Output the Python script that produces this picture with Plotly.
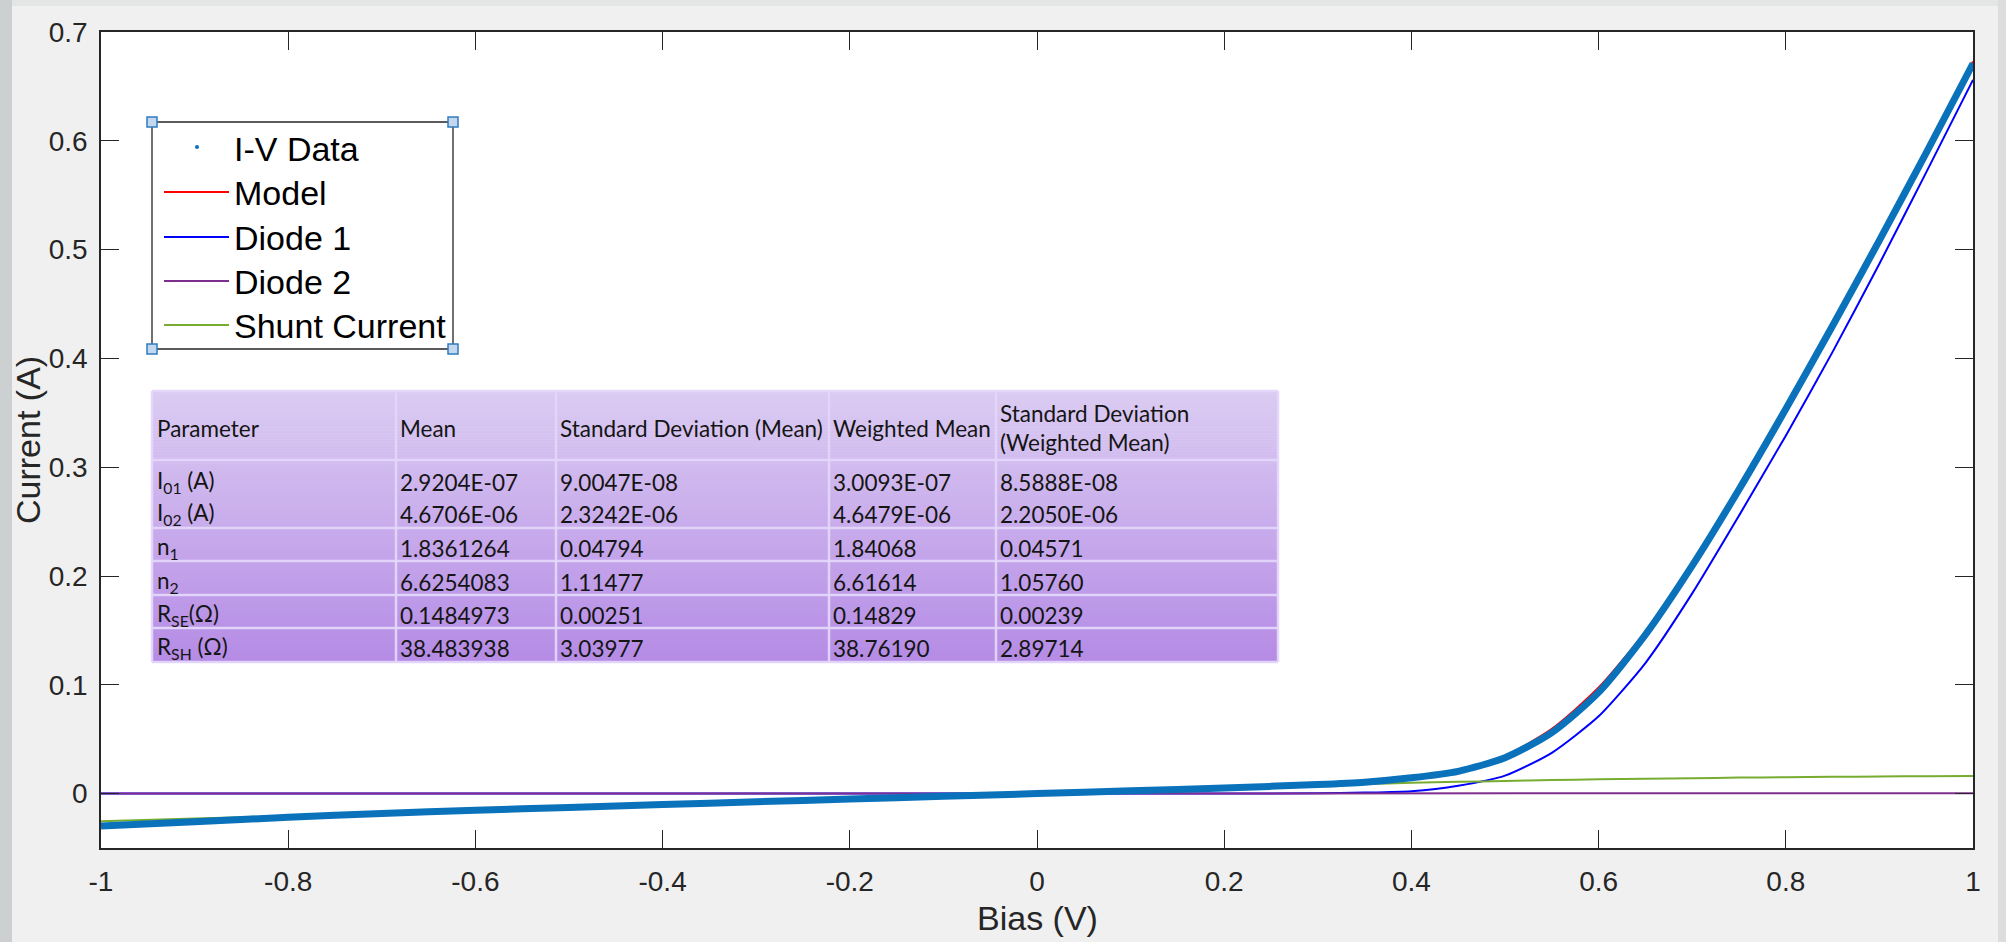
import plotly.graph_objects as go

# ---------------- data ----------------
bias = [-1.0, -0.9, -0.8, -0.7, -0.6, -0.5, -0.4, -0.3, -0.2, -0.1, 0.0, 0.1, 0.2,
        0.3, 0.35, 0.4, 0.45, 0.5, 0.55, 0.6, 0.65, 0.7, 0.75, 0.8, 0.85, 0.9, 0.95, 1.0]

iv_data = [-0.0298, -0.0258, -0.0218, -0.0182, -0.0153, -0.0127, -0.0101, -0.0075, -0.0050,
           -0.0025, 0.0, 0.0026, 0.0052, 0.0083, 0.0105, 0.0145, 0.0205, 0.033, 0.056, 0.093,
           0.146, 0.2095, 0.2795, 0.3535, 0.430, 0.5085, 0.589, 0.671]

model = [-0.0296, -0.0256, -0.0217, -0.0181, -0.0153, -0.0127, -0.0101, -0.0075, -0.0050,
         -0.0025, 0.0, 0.0026, 0.0053, 0.0084, 0.0107, 0.0148, 0.0212, 0.0348, 0.0595, 0.0975,
         0.149, 0.211, 0.281, 0.355, 0.431, 0.5095, 0.590, 0.673]

diode_1 = [0.0, 0.0, 0.0, 0.0, 0.0, 0.0, 0.0, 0.0, 0.0, 0.0, 0.0, 0.0, 0.0001,
           0.0003, 0.0009, 0.0022, 0.0072, 0.0165, 0.0375, 0.071, 0.120, 0.184, 0.2555,
           0.329, 0.406, 0.487, 0.571, 0.656]

diode_2 = [0.0, 0.0, 0.0, 0.0, 0.0, 0.0, 0.0, 0.0, 0.0, 0.0, 0.0, 0.0, 0.0,
           0.0, 0.0, 0.0, 0.0, 0.0, 0.0, 0.0001, 0.0001, 0.0001, 0.0001, 0.0002,
           0.0002, 0.0002, 0.0002, 0.0003]

shunt = [-0.0255, -0.0230, -0.0205, -0.0180, -0.0154, -0.0128, -0.0102, -0.0077, -0.0051,
         -0.0026, 0.0, 0.0026, 0.0051, 0.0076, 0.0088, 0.0099, 0.0108, 0.0116, 0.0124,
         0.0131, 0.0137, 0.0142, 0.0147, 0.0151, 0.0154, 0.0157, 0.0160, 0.0162]

x_ticks = [-1, -0.8, -0.6, -0.4, -0.2, 0, 0.2, 0.4, 0.6, 0.8, 1]
x_tick_labels = ["-1", "-0.8", "-0.6", "-0.4", "-0.2", "0", "0.2", "0.4", "0.6", "0.8", "1"]
y_ticks = [0, 0.1, 0.2, 0.3, 0.4, 0.5, 0.6, 0.7]
y_tick_labels = ["0", "0.1", "0.2", "0.3", "0.4", "0.5", "0.6", "0.7"]

legend_labels = ["I-V Data", "Model", "Diode 1", "Diode 2", "Shunt Current"]

table_header = ["Parameter", "Mean", "Standard Deviation (Mean)", "Weighted Mean",
                "Standard Deviation<br>(Weighted Mean)"]
table_params = ["I<sub>01</sub> (A)", "I<sub>02</sub> (A)", "n<sub>1</sub>", "n<sub>2</sub>",
                "R<sub>SE</sub>(Ω)", "R<sub>SH</sub> (Ω)"]
table_mean = ["2.9204E-07", "4.6706E-06", "1.8361264", "6.6254083", "0.1484973", "38.483938"]
table_sd_mean = ["9.0047E-08", "2.3242E-06", "0.04794", "1.11477", "0.00251", "3.03977"]
table_wmean = ["3.0093E-07", "4.6479E-06", "1.84068", "6.61614", "0.14829", "38.76190"]
table_sd_wmean = ["8.5888E-08", "2.2050E-06", "0.04571", "1.05760", "0.00239", "2.89714"]

# ---------------- layout geometry (pixels) ----------------
W, H = 2006, 942
L, R, T, B = 101, 1973, 32, 848


def px(x):
    return (x - L) / (R - L)


def py(y):
    return (B - y) / (B - T)


AXC = "#262626"
fig = go.Figure()

fig.add_trace(go.Scatter(x=bias, y=model, mode="lines", name="Model",
                         line=dict(color="#FF0000", width=2, shape="spline", smoothing=0.7)))
fig.add_trace(go.Scatter(x=bias, y=diode_1, mode="lines", name="Diode 1",
                         line=dict(color="#0000FF", width=2, shape="spline", smoothing=0.6)))
fig.add_trace(go.Scatter(x=bias, y=diode_2, mode="lines", name="Diode 2",
                         line=dict(color="#7E2F8E", width=2)))
fig.add_trace(go.Scatter(x=bias, y=shunt, mode="lines", name="Shunt Current",
                         line=dict(color="#77AC30", width=2, shape="spline", smoothing=0.6)))
fig.add_trace(go.Scatter(x=bias, y=iv_data, mode="lines", name="I-V Data",
                         line=dict(color="#0a72ba", width=7, shape="spline", smoothing=0.7)))

shapes = []
annotations = []

# window edge strips
shapes.append(dict(type="rect", xref="paper", yref="paper", x0=px(0), x1=px(12), y0=py(H), y1=py(0),
                   fillcolor="#cdd0d0", line=dict(width=0), layer="below"))
shapes.append(dict(type="rect", xref="paper", yref="paper", x0=px(12), x1=px(W), y0=py(6), y1=py(0),
                   fillcolor="#e4e6e6", line=dict(width=0), layer="below"))
shapes.append(dict(type="rect", xref="paper", yref="paper", x0=px(1998), x1=px(W), y0=py(H), y1=py(0),
                   fillcolor="#dcdede", line=dict(width=0), layer="below"))

# ---------------- table ----------------
tx0, tx1, ty0, ty1 = 152, 1278, 391, 662
c_top = (219, 204, 242)
c_bot = (181, 139, 229)
n_strips = 90
for i in range(n_strips):
    f = (i + 0.5) / n_strips
    col = tuple(round(c_top[k] + (c_bot[k] - c_top[k]) * f) for k in range(3))
    y_a = ty0 + (ty1 - ty0) * i / n_strips
    y_b = ty0 + (ty1 - ty0) * (i + 1) / n_strips + 0.6
    shapes.append(dict(type="rect", xref="paper", yref="paper", x0=px(tx0), x1=px(tx1),
                       y0=py(y_b), y1=py(y_a), fillcolor="rgb(%d,%d,%d)" % col, line=dict(width=0)))

grid_col = "rgba(228,214,250,0.95)"
for yy in [391, 460, 528, 561, 595, 628, 662]:
    shapes.append(dict(type="line", xref="paper", yref="paper", x0=px(tx0), x1=px(tx1),
                       y0=py(yy), y1=py(yy), line=dict(color=grid_col, width=2.5)))
col_x = [152, 396, 556, 829, 996, 1278]
for xx in col_x:
    shapes.append(dict(type="line", xref="paper", yref="paper", x0=px(xx), x1=px(xx),
                       y0=py(ty0), y1=py(ty1), line=dict(color=grid_col, width=2.5)))

tfont = dict(family="Lato, Open Sans, sans-serif", size=22.5, color="#151515")
text_x = [155, 398, 558, 831, 998]
for j, h in enumerate(table_header):
    annotations.append(dict(xref="paper", yref="paper", x=px(text_x[j]), y=py(428),
                            text=h, showarrow=False, xanchor="left", yanchor="middle",
                            align="left", font=tfont))
row_y = [482, 514, 548, 582, 615, 648]
columns = [table_params, table_mean, table_sd_mean, table_wmean, table_sd_wmean]
for j, colvals in enumerate(columns):
    for i, v in enumerate(colvals):
        annotations.append(dict(xref="paper", yref="paper", x=px(text_x[j]), y=py(row_y[i]),
                                text=v, showarrow=False, xanchor="left", yanchor="middle",
                                align="left", font=tfont))

# ---------------- legend (drawn by hand, MATLAB style with selection handles) ----------------
lx0, lx1, ly0, ly1 = 152, 453, 122, 349
shapes.append(dict(type="rect", xref="paper", yref="paper", x0=px(lx0), x1=px(lx1),
                   y0=py(ly1), y1=py(ly0), fillcolor="white", line=dict(color=AXC, width=1.3)))
entry_y = [148, 192, 237, 281, 325]
entry_colors = ["#0a72ba", "#FF0000", "#0000FF", "#7E2F8E", "#77AC30"]
for k in range(1, 5):
    shapes.append(dict(type="line", xref="paper", yref="paper", x0=px(164), x1=px(229),
                       y0=py(entry_y[k]), y1=py(entry_y[k]),
                       line=dict(color=entry_colors[k], width=2)))
shapes.append(dict(type="circle", xref="paper", yref="paper", x0=px(195), x1=px(199),
                   y0=py(149), y1=py(145), fillcolor=entry_colors[0], line=dict(width=0)))
lfont = dict(family="Liberation Sans, Arial, sans-serif", size=34, color="#000000")
for k, lab in enumerate(legend_labels):
    annotations.append(dict(xref="paper", yref="paper", x=px(232), y=py(entry_y[k] + 1),
                            text=lab, showarrow=False, xanchor="left", yanchor="middle",
                            font=lfont))
for cx in (lx0, lx1):
    for cy in (ly0, ly1):
        shapes.append(dict(type="rect", xref="paper", yref="paper", x0=px(cx - 5), x1=px(cx + 5),
                           y0=py(cy + 5), y1=py(cy - 5), fillcolor="#c3d8ee",
                           line=dict(color="#2f7bbf", width=1.5)))

# axis titles
afont = dict(family="Liberation Sans, Arial, sans-serif", size=34, color=AXC)
annotations.append(dict(xref="paper", yref="paper", x=px(1037), y=py(918), text="Bias (V)",
                        showarrow=False, xanchor="center", yanchor="middle", font=afont))
annotations.append(dict(xref="paper", yref="paper", x=px(28), y=py(440), text="Current (A)",
                        textangle=-90, showarrow=False, xanchor="center", yanchor="middle",
                        font=afont))

tickfont = dict(family="Liberation Sans, Arial, sans-serif", size=28, color=AXC)
fig.update_layout(
    width=W, height=H,
    margin=dict(l=L, r=W - R, t=T, b=H - B, pad=0),
    paper_bgcolor="#f0f0f0",
    plot_bgcolor="white",
    showlegend=False,
    shapes=shapes,
    annotations=annotations,
    xaxis=dict(range=[-1, 1], tickvals=x_ticks, ticktext=x_tick_labels, ticks="inside",
               ticklen=18, tickwidth=1.3, tickcolor=AXC, showline=True, linecolor=AXC,
               linewidth=1.5, mirror="ticks", showgrid=False, zeroline=False,
               tickfont=tickfont, ticklabelstandoff=8),
    yaxis=dict(range=[-0.05, 0.7], tickvals=y_ticks, ticktext=y_tick_labels, ticks="inside",
               ticklen=18, tickwidth=1.3, tickcolor=AXC, showline=True, linecolor=AXC,
               linewidth=1.5, mirror="ticks", showgrid=False, zeroline=False,
               tickfont=tickfont, ticklabelstandoff=6),
)

fig.write_html("out.html")
